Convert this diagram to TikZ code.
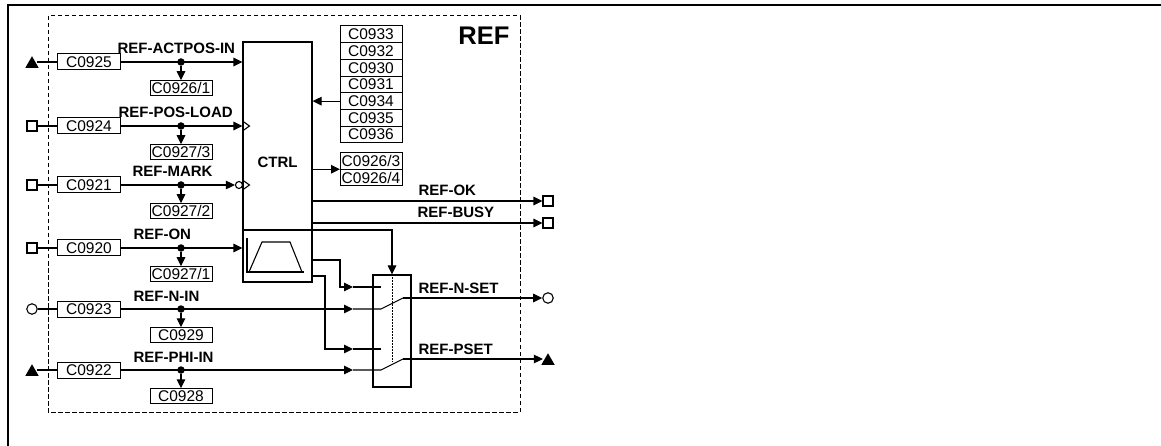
\documentclass[tikz,border=0pt]{standalone}
\usepackage{fontspec}
\setmainfont{Liberation Sans}
\usetikzlibrary{positioning, shapes.geometric, arrows.meta}

\begin{document}
\begin{tikzpicture}[
            x=1pt, y=-1pt,
            >={Triangle[length=9pt,width=8.5pt]},
            line width=1.1pt,
            % Styles
            cbox/.style={rectangle, draw, line width=1pt, inner sep=0pt, outer sep=0pt,
              minimum width=63pt, minimum height=16pt, font=\fontsize{15.5}{17}\selectfont},
            pbox/.style={cbox, minimum width=62pt, minimum height=16.7pt},
            sig/.style={font=\bfseries\fontsize{15}{17}\selectfont, inner sep=0pt, anchor=base west},
            tap/.style={circle, fill, inner sep=0pt, minimum size=7.5pt},
            tri/.style={regular polygon, regular polygon sides=3, fill, inner sep=0pt,
              minimum size=15.5pt, yshift=-2pt},
            sqr/.style={rectangle, draw, fill=white, inner sep=0pt, minimum size=10pt},
            rnd/.style={circle, draw, fill=white, inner sep=0pt, minimum size=10.5pt},
            block/.style={rectangle, draw, inner sep=0pt},
            refframe/.style={dash pattern=on 4.5pt off 2.5pt, line width=1pt}
          ]
          \useasboundingbox (0,0) rectangle (1161,446);
          % 0. Frames
          \draw[line width=2.2pt] (8,446) -- (8,5) -- (1161,5);
          \draw[refframe] (48,16) rectangle (520,412);
          \node[font=\bfseries\fontsize{25.5}{28}\selectfont, anchor=base east, inner sep=0pt] (title) at (510,45) {REF};
          % 1. Inputs with their code boxes
          \foreach \r/\y/\sym/\cin/\lbl/\lx/\cout in {
              1/62/tri/C0925/REF-ACTPOS-IN/117/{C0926/1},
              2/126/sqr/C0924/REF-POS-LOAD/118/{C0927/3},
              3/185/sqr/C0921/REF-MARK/132/{C0927/2},
              4/248/sqr/C0920/REF-ON/133/{C0927/1},
              5/309/rnd/C0923/REF-N-IN/133/C0929,
              6/370/tri/C0922/REF-PHI-IN/133/C0928} {
            \node[\sym] (sym\r) at (32,\y) {};
            \node[cbox] (in\r) at (89,\y) {\cin};
            \node[cbox, minimum width=62pt, minimum height=15.5pt] (out\r) at (181,\y+26) {\cout};
            \node[tap] (tap\r) at (181,\y) {};
            \node[sig] (lbl\r) at (\lx,\y-8) {\lbl};
            \draw (in\r) -- (in\r -| sym\r.east);
            \draw[->] (tap\r) -- (out\r);
          }
          % 2. Control block with ramp
          \node[block, minimum width=69pt, minimum height=240pt,
            font=\bfseries\fontsize{15}{17}\selectfont] (ctrl) at (277.5,162) {CTRL};
          \draw (247,238) -- (247,272) -- (304,272);
          \draw (249,272) -- (262,242) -- (290,242) -- (302,272);
          % 3. Parameter codes
          \node[pbox] (p1) at (371,34.35) {C0933};
          \foreach \n/\i/\j in {C0932/2/1, C0930/3/2, C0931/4/3, C0934/5/4, C0935/6/5, C0936/7/6}
            \node[pbox, below=0pt of p\j] (p\i) {\n};
          \node[pbox, minimum height=16.5pt] (q1) at (371,161) {C0926/3};
          \node[pbox, minimum height=16.5pt, below=0pt of q1] (q2) {C0926/4};
          % 4. Switch
          \node[block, minimum width=38pt, minimum height=112pt] (sw) at (392,331) {};
          \draw[dash pattern=on 1.5pt off 1.5pt, line width=0.9pt] (sw.north) -- ++(0,88);
          \coordinate (kn) at (381,287);
          \coordinate (kp) at (381,349);
          \coordinate (kni) at (381,309);
          \coordinate (kpi) at (381,370);
          \coordinate (lvn) at (403,298);
          \coordinate (lvp) at (403,359);
          % 5. Outputs
          \node[sqr] (okout) at (548,201) {};
          \node[sqr] (busyout) at (548,223) {};
          \node[rnd] (nout) at (548,298) {};
          \node[tri] (pout) at (548,359) {};
          \node[sig] (lblok) at (418,196) {REF-OK};
          \node[sig] (lblbusy) at (417,218) {REF-BUSY};
          \node[sig] (lblnset) at (418,293) {REF-N-SET};
          \node[sig] (lblpset) at (418,354) {REF-PSET};
          % --- Connections ---
          \draw[->] (in1) -- (in1 -| ctrl.west);
          \draw[->] (in2) -- (in2 -| ctrl.west);
          \draw (ctrl.west |- 0,121) -- ++(7,5) -- ++(-7,5);
          \node[rnd, minimum size=7pt] (inv3) at ([xshift=-3.5pt]in3 -| ctrl.west) {};
          \draw[->] (in3) -- (inv3);
          \draw (ctrl.west |- 0,180) -- ++(7,5) -- ++(-7,5);
          \draw[->] (in4) -- (in4 -| ctrl.west);
          \draw[->] (p5.west) -- (p5.west -| ctrl.east);
          \draw[->] (q1.south west -| ctrl.east) -- (q1.south west);
          \draw[->] (okout -| ctrl.east) -- (okout);
          \draw[->] (busyout -| ctrl.east) -- (busyout);
          \draw[->] (ctrl.west |- 0,230) -| (sw.north);
          \draw[->] (ctrl.east |- 0,260) -| (340,287) -- (353,287);
          \draw (353,287) -- (kn);
          \draw[->] (ctrl.east |- 0,276) -| (325,349) -- (353,349);
          \draw (353,349) -- (kp);
          \draw[->] (in5) -- (353,309);
          \draw (353,309) -- (kni) -- (lvn);
          \draw[->] (in6) -- (353,370);
          \draw (353,370) -- (kpi) -- (lvp);
          \draw[->] (lvn) -- (nout);
          \draw[->] (lvp) -- (lvp -| pout.west);
        \end{tikzpicture}
\end{document}
